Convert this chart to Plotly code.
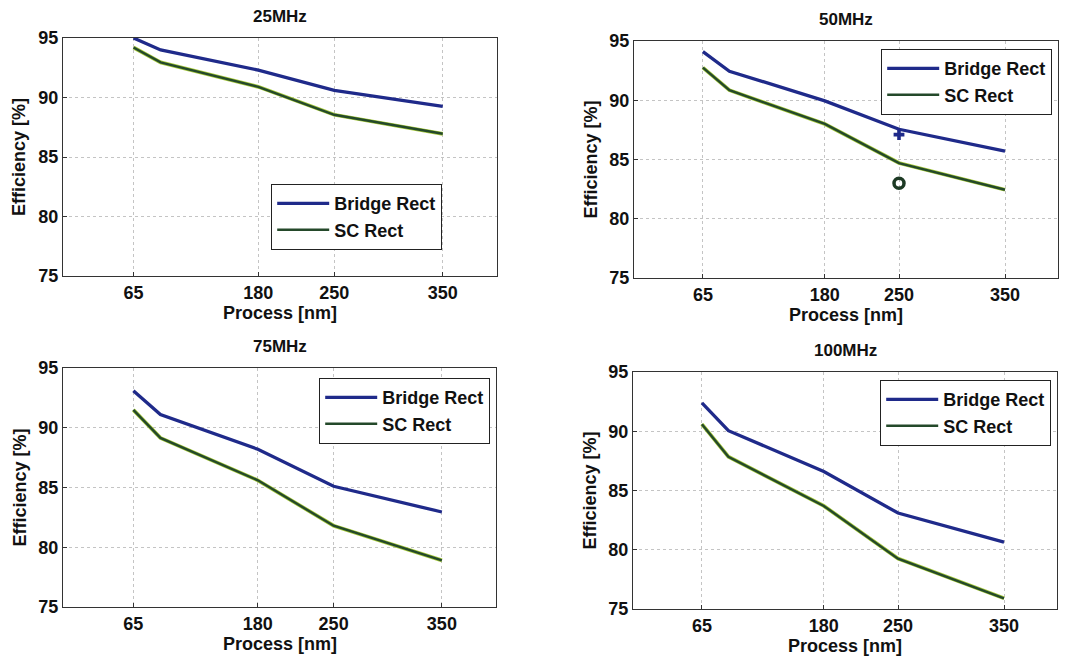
import plotly.graph_objects as go

# Process nodes [nm]
process_nm = [65, 90, 180, 250, 350]
tick_vals = [65, 180, 250, 350]
tick_text = ["65", "180", "250", "350"]

# Rectifier efficiency [%] per operating frequency
bridge_25 = [95.0, 94.0, 92.3, 90.6, 89.25]
sc_25 = [94.2, 92.95, 90.9, 88.55, 86.95]

bridge_50 = [94.1, 92.45, 89.95, 87.55, 85.7]
sc_50 = [92.75, 90.85, 88.0, 84.7, 82.45]

bridge_75 = [93.1, 91.1, 88.2, 85.1, 82.95]
sc_75 = [91.5, 89.15, 85.6, 81.8, 78.9]

bridge_100 = [92.4, 90.05, 86.6, 83.1, 80.65]
sc_100 = [90.6, 87.85, 83.7, 79.25, 75.9]

# Measured points at 250 nm, 50 MHz
meas_x = [250]
meas_bridge_50 = [87.1]
meas_sc_50 = [83.0]

titles = ["25MHz", "50MHz", "75MHz", "100MHz"]
bridge_sets = [bridge_25, bridge_50, bridge_75, bridge_100]
sc_sets = [sc_25, sc_50, sc_75, sc_100]

W, H = 1069, 660
FONT = "Liberation Sans, Arial, sans-serif"
BRIDGE = "#1f2a8a"
SC_DARK = "#24492a"
SC_EDGE = "#a6c93a"

# pixel boxes of each axes frame: (left, right, top, bottom)
frames = [
    (63, 497, 38, 276),
    (634, 1058, 41, 278),
    (63, 496, 368, 607),
    (633, 1057, 372, 609),
]
# legend boxes: (right, top)
legend_pos = [(442, 184), (1052, 49), (490, 378), (1051, 380)]


def px(x):
    return x / W


def py(y):
    return 1 - y / H


fig = go.Figure()
layout = dict(
    width=W, height=H,
    margin=dict(l=0, r=0, t=0, b=0, autoexpand=False),
    paper_bgcolor="white", plot_bgcolor="white",
    font=dict(family=FONT, color="#111111"),
    annotations=[],
)

for i in range(4):
    n = "" if i == 0 else str(i + 1)
    xa, ya = "x" + n, "y" + n
    leg = "legend" + n
    l, r, t, b = frames[i]

    # SC trace: light edge under a dark core
    fig.add_trace(go.Scatter(
        x=process_nm, y=sc_sets[i], mode="lines", xaxis=xa, yaxis=ya,
        line=dict(color=SC_EDGE, width=3.8), showlegend=False, hoverinfo="skip",
    ))
    fig.add_trace(go.Scatter(
        x=process_nm, y=bridge_sets[i], mode="lines", name="Bridge Rect",
        xaxis=xa, yaxis=ya, legend=leg,
        line=dict(color=BRIDGE, width=3.3),
    ))
    fig.add_trace(go.Scatter(
        x=process_nm, y=sc_sets[i], mode="lines", name="SC Rect",
        xaxis=xa, yaxis=ya, legend=leg,
        line=dict(color=SC_DARK, width=2.4),
    ))
    if i == 1:
        fig.add_trace(go.Scatter(
            x=meas_x, y=meas_bridge_50, mode="markers", xaxis=xa, yaxis=ya,
            marker=dict(symbol="cross", size=9, color=BRIDGE), showlegend=False,
        ))
        fig.add_trace(go.Scatter(
            x=meas_x, y=meas_sc_50, mode="markers", xaxis=xa, yaxis=ya,
            marker=dict(symbol="circle-open", size=10, color="#1d3a24",
                        line=dict(width=3.5, color="#1d3a24")),
            showlegend=False,
        ))

    axis_common = dict(
        showline=True, mirror=True, linecolor="#333333", linewidth=1.2,
        ticks="inside", ticklen=4, tickcolor="#333333",
        showgrid=True, gridcolor="#c4c4c4", griddash="dot", gridwidth=1,
        zeroline=False, automargin=False,
        tickfont=dict(family=FONT, size=18, weight="bold", color="#111111"),
    )
    layout["xaxis" + n] = dict(
        axis_common, domain=[px(l), px(r)], range=[0, 400],
        tickmode="array", tickvals=tick_vals, ticktext=tick_text,
        anchor=ya,
    )
    layout["yaxis" + n] = dict(
        axis_common, domain=[py(b), py(t)], range=[75, 95],
        tickmode="array", tickvals=[75, 80, 85, 90, 95],
        anchor=xa,
    )
    lr, lt = legend_pos[i]
    layout[leg] = dict(
        x=px(lr), y=py(lt), xanchor="right", yanchor="top",
        xref="paper", yref="paper",
        bgcolor="white", bordercolor="#222222", borderwidth=1.2,
        font=dict(family=FONT, size=18, weight="bold", color="#111111"),
        tracegroupgap=0, itemwidth=52,
    )

    cx = (l + r) / 2
    layout["annotations"] += [
        dict(text="<b>%s</b>" % titles[i], x=px(cx), y=py(t - 22),
             xref="paper", yref="paper", showarrow=False,
             xanchor="center", yanchor="middle",
             font=dict(family=FONT, size=17, color="#111111")),
        dict(text="<b>Process [nm]</b>", x=px(cx), y=py(b + 37),
             xref="paper", yref="paper", showarrow=False,
             xanchor="center", yanchor="middle",
             font=dict(family=FONT, size=18, color="#111111")),
        dict(text="<b>Efficiency [%]</b>", x=px(l - 44), y=py((t + b) / 2),
             xref="paper", yref="paper", showarrow=False, textangle=-90,
             xanchor="center", yanchor="middle",
             font=dict(family=FONT, size=18, color="#111111")),
    ]

fig.update_layout(**layout)
fig.write_html("out.html")
